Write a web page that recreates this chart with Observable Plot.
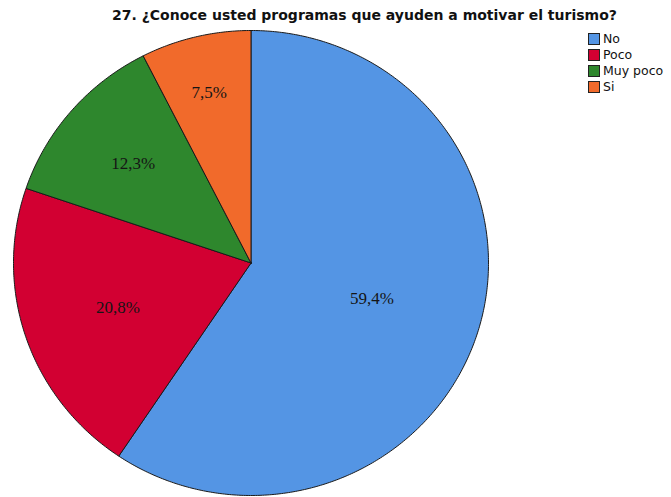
<!DOCTYPE html>
<html><head><meta charset="utf-8">
<script src="https://cdn.jsdelivr.net/npm/d3@7"></script>
<script src="https://cdn.jsdelivr.net/npm/@observablehq/plot@0.6"></script>
<style>
body{margin:0;background:#fff;width:671px;height:497px;overflow:hidden;position:relative;}
#title{height:25px;line-height:30px;font-family:"DejaVu Sans",sans-serif;font-weight:bold;font-size:14px;color:#111;text-align:left;padding-left:112px;white-space:nowrap;}
#legend{position:absolute;left:588px;top:31px;font-family:"DejaVu Sans",sans-serif;font-size:12.5px;color:#111;}
#legend div{height:16px;line-height:14px;display:flex;align-items:center;}
#legend span.sw{display:inline-block;width:10px;height:10px;border:1px solid #222;margin-right:3px;}
</style></head>
<body>
<div id="title">27. ¿Conoce usted programas que ayuden a motivar el turismo?</div>
<div id="chart"></div>
<div id="legend"></div>
<script>
const categories = ["No", "Poco", "Muy poco", "Si"];
const percents = [59.4, 20.8, 12.3, 7.5];
const labels = ["59,4%", "20,8%", "12,3%", "7,5%"];
const colors = ["#5495E4", "#D20032", "#2E872D", "#F16A2B"];

const pie = d3.pie().sort(null).value(d => d)(percents);
const polys = [];
const labelPts = [];
pie.forEach((s, i) => {
  const cat = categories[i];
  polys.push({cat, x: 0, y: 0});
  const n = Math.max(4, Math.ceil((s.endAngle - s.startAngle) / 0.01));
  for (let k = 0; k <= n; k++) {
    const a = s.startAngle + (s.endAngle - s.startAngle) * k / n;
    polys.push({cat, x: Math.sin(a), y: Math.cos(a)});
  }
  polys.push({cat, x: 0, y: 0});
  const th = s.endAngle - s.startAngle;
  const mid = (s.startAngle + s.endAngle) / 2;
  const r = 0.5 + 0.12 / th;
  labelPts.push({label: labels[i], x: r * Math.sin(mid), y: r * Math.cos(mid)});
});

const chart = Plot.plot({
  width: 671, height: 472,
  margin: 0,
  x: {domain: [-1, 1], range: [13, 488], axis: null},
  y: {domain: [-1, 1], range: [470, 5], axis: null},
  color: {domain: categories, range: colors},
  marks: [
    Plot.line(polys, {x: "x", y: "y", z: "cat", fill: "cat", stroke: "#1a1a1a", strokeWidth: 1, curve: "linear-closed"}),
    Plot.text(labelPts, {x: "x", y: "y", text: "label", fontFamily: "Liberation Serif, serif", fontSize: 17, fill: "#151515"})
  ]
});
document.getElementById("chart").appendChild(chart);

const leg = document.getElementById("legend");
categories.forEach((c, i) => {
  const row = document.createElement("div");
  row.innerHTML = `<span class="sw" style="background:${colors[i]}"></span>${c}`;
  leg.appendChild(row);
});
</script>
</body></html>
